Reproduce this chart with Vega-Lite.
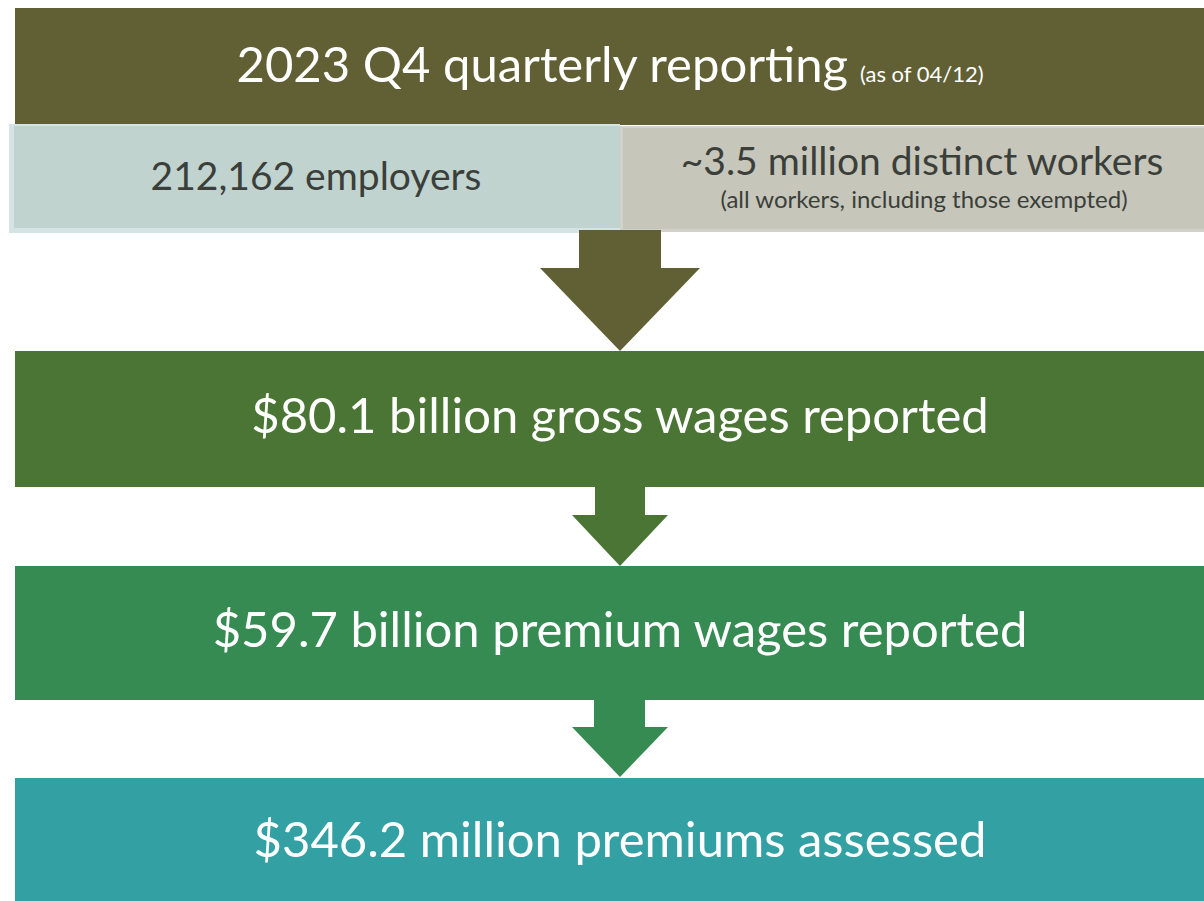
{
  "$schema": "https://vega.github.io/schema/vega-lite/v6.json",
  "width": 1204,
  "height": 901,
  "autosize": {"type": "fit", "contains": "padding"},
  "padding": 0,
  "background": "#ffffff",
  "config": {"view": {"stroke": null}},
  "datasets": {
    "boxes": [
      {"box": "top", "x1": 15, "x2": 1204, "y1": 8, "y2": 125},
      {"box": "employers_edge", "x1": 9, "x2": 620, "y1": 124, "y2": 233},
      {"box": "employers", "x1": 14, "x2": 620, "y1": 126, "y2": 228},
      {"box": "workers_edge", "x1": 620, "x2": 1204, "y1": 126, "y2": 232},
      {"box": "workers", "x1": 623, "x2": 1204, "y1": 128, "y2": 229},
      {"box": "gross", "x1": 15, "x2": 1204, "y1": 351, "y2": 487},
      {"box": "premium", "x1": 15, "x2": 1204, "y1": 566, "y2": 700},
      {"box": "assessed", "x1": 15, "x2": 1204, "y1": 778, "y2": 901},
      {"box": "top", "x1": 579, "x2": 661, "y1": 230, "y2": 268},
      {"box": "gross", "x1": 595, "x2": 645, "y1": 487, "y2": 515},
      {"box": "premium", "x1": 594, "x2": 645, "y1": 700, "y2": 727}
    ],
    "heads": [
      {"box": "top", "arrow": "a1", "x": 540, "y": 268, "y2": 268},
      {"box": "top", "arrow": "a1", "x": 620, "y": 268, "y2": 351},
      {"box": "top", "arrow": "a1", "x": 700, "y": 268, "y2": 268},
      {"box": "gross", "arrow": "a2", "x": 572, "y": 515, "y2": 515},
      {"box": "gross", "arrow": "a2", "x": 620, "y": 515, "y2": 566},
      {"box": "gross", "arrow": "a2", "x": 668, "y": 515, "y2": 515},
      {"box": "premium", "arrow": "a3", "x": 572, "y": 727, "y2": 727},
      {"box": "premium", "arrow": "a3", "x": 620, "y": 727, "y2": 777},
      {"box": "premium", "arrow": "a3", "x": 668, "y": 727, "y2": 727}
    ],
    "title": [{"label": "2023 Q4 quarterly reporting", "x": 848, "y": 67}],
    "titleNote": [{"label": "(as of 04/12)", "x": 860, "y": 75}],
    "headlines": [
      {"label": "$80.1 billion gross wages reported", "x": 620, "y": 418},
      {"label": "$59.7 billion premium wages reported", "x": 620, "y": 632},
      {"label": "$346.2 million premiums assessed", "x": 620, "y": 842}
    ],
    "counts": [
      {"label": "212,162 employers", "x": 316, "y": 178},
      {"label": "~3.5 million distinct workers", "x": 922, "y": 163}
    ],
    "notes": [
      {"label": "(all workers, including those exempted)", "x": 924, "y": 201}
    ]
  },
  "resolve": {"scale": {"color": "shared"}},
  "layer": [
    {
      "data": {"name": "boxes"},
      "mark": {"type": "rect"},
      "encoding": {
        "x": {"field": "x1", "type": "quantitative", "scale": {"domain": [0, 1204], "nice": false, "zero": false}, "axis": null},
        "x2": {"field": "x2"},
        "y": {"field": "y1", "type": "quantitative", "scale": {"domain": [0, 901], "nice": false, "zero": false, "reverse": true}, "axis": null},
        "y2": {"field": "y2"},
        "color": {
          "field": "box", "type": "nominal", "legend": null,
          "scale": {
            "domain": ["top", "employers_edge", "employers", "workers_edge", "workers", "gross", "premium", "assessed"],
            "range": ["#616035", "#d4e3e3", "#c1d3cf", "#d2d2ca", "#c6c6bb", "#4b7534", "#368b53", "#33a0a4"]
          }
        }
      }
    },
    {
      "data": {"name": "heads"},
      "mark": {"type": "area", "orient": "vertical"},
      "encoding": {
        "x": {"field": "x", "type": "quantitative"},
        "y": {"field": "y", "type": "quantitative"},
        "y2": {"field": "y2"},
        "detail": {"field": "arrow"},
        "color": {"field": "box", "type": "nominal", "legend": null}
      }
    },
    {
      "data": {"name": "title"},
      "mark": {"type": "text", "align": "right", "baseline": "middle", "font": "Lato", "fontSize": 49, "color": "#ffffff"},
      "encoding": {
        "x": {"field": "x", "type": "quantitative"},
        "y": {"field": "y", "type": "quantitative"},
        "text": {"field": "label"}
      }
    },
    {
      "data": {"name": "titleNote"},
      "mark": {"type": "text", "align": "left", "baseline": "middle", "font": "Lato", "fontSize": 22, "color": "#ffffff"},
      "encoding": {
        "x": {"field": "x", "type": "quantitative"},
        "y": {"field": "y", "type": "quantitative"},
        "text": {"field": "label"}
      }
    },
    {
      "data": {"name": "headlines"},
      "mark": {"type": "text", "align": "center", "baseline": "middle", "font": "Lato", "fontSize": 49, "color": "#ffffff"},
      "encoding": {
        "x": {"field": "x", "type": "quantitative"},
        "y": {"field": "y", "type": "quantitative"},
        "text": {"field": "label"}
      }
    },
    {
      "data": {"name": "counts"},
      "mark": {"type": "text", "align": "center", "baseline": "middle", "font": "Lato", "fontSize": 39, "color": "#3b3f3a"},
      "encoding": {
        "x": {"field": "x", "type": "quantitative"},
        "y": {"field": "y", "type": "quantitative"},
        "text": {"field": "label"}
      }
    },
    {
      "data": {"name": "notes"},
      "mark": {"type": "text", "align": "center", "baseline": "middle", "font": "Lato", "fontSize": 24, "color": "#3b3f3a"},
      "encoding": {
        "x": {"field": "x", "type": "quantitative"},
        "y": {"field": "y", "type": "quantitative"},
        "text": {"field": "label"}
      }
    }
  ]
}
